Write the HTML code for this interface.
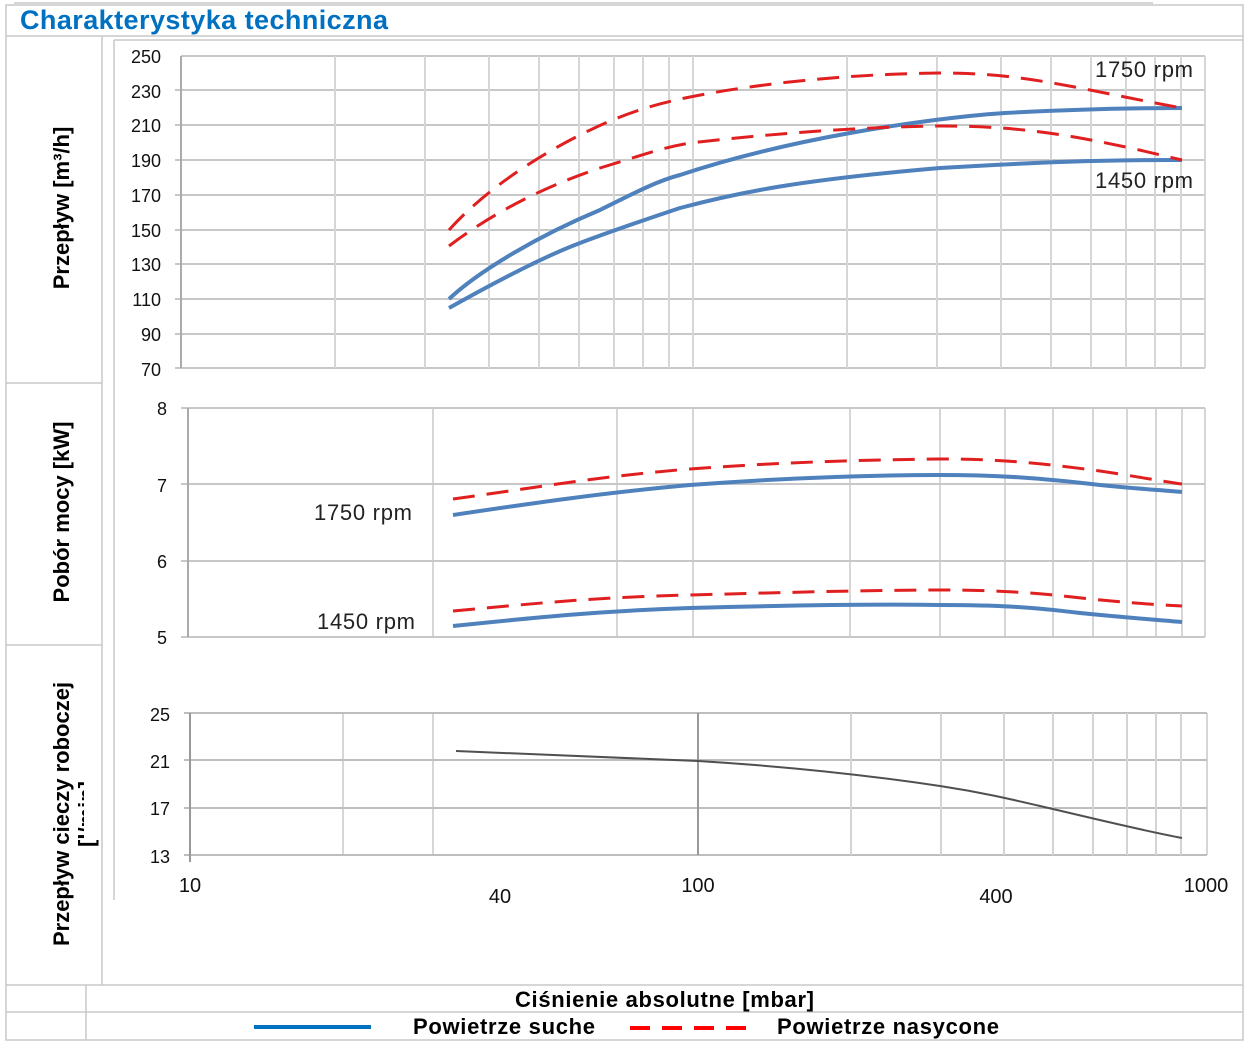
<!DOCTYPE html>
<html><head><meta charset="utf-8"><style>
body{margin:0;background:#fff}
svg{display:block;font-family:"Liberation Sans",Arial,sans-serif}
</style></head><body>
<svg width="1247" height="1045" viewBox="0 0 1247 1045">
<g stroke="#c8c8c8" stroke-width="1.5" fill="none">
<line x1="14" y1="3" x2="1153" y2="3"/>
<rect x="6" y="5" width="1237" height="1035"/>
<line x1="6" y1="36" x2="1243" y2="36"/>
<line x1="102" y1="36" x2="102" y2="985"/>
<line x1="6" y1="383" x2="102" y2="383"/>
<line x1="6" y1="645" x2="102" y2="645"/>
<line x1="6" y1="985" x2="1243" y2="985"/>
<line x1="6" y1="1012" x2="1243" y2="1012"/>
<line x1="86" y1="985" x2="86" y2="1040"/>
<line x1="114" y1="40" x2="114" y2="900"/>
<line x1="114" y1="40" x2="1243" y2="40"/>
</g>
<text x="20" y="29" font-size="27" font-weight="bold" fill="#0070c0" textLength="368">Charakterystyka techniczna</text>
<g font-weight="bold" font-size="22" fill="#000">
<text transform="translate(69,208) rotate(-90)" text-anchor="middle">Przepływ [m³/h]</text>
<text transform="translate(69,512) rotate(-90)" text-anchor="middle">Pobór mocy [kW]</text>
<text transform="translate(69,814) rotate(-90)" text-anchor="middle">Przepływ cieczy roboczej</text>
<text transform="translate(94,814) rotate(-90)" text-anchor="middle">[l/min]</text>
</g>
<rect x="84" y="700" width="17" height="140" fill="#fff"/>
<rect x="103" y="940" width="900" height="44" fill="#fff"/>
<g stroke="#c8c8c8" stroke-width="2">
<line x1="181" y1="56" x2="1205" y2="56"/><line x1="175" y1="90" x2="1205" y2="90"/>
<line x1="175" y1="125" x2="1205" y2="125"/><line x1="175" y1="160" x2="1205" y2="160"/>
<line x1="175" y1="195" x2="1205" y2="195"/><line x1="175" y1="230" x2="1205" y2="230"/>
<line x1="175" y1="264" x2="1205" y2="264"/><line x1="175" y1="299" x2="1205" y2="299"/>
<line x1="175" y1="334" x2="1205" y2="334"/><line x1="175" y1="368" x2="1205" y2="368"/>
</g>
<g stroke="#d6d6d6" stroke-width="2">
<path d="M335 56V368M425 56V368M489 56V368M539 56V368M579 56V368M614 56V368M643 56V368M669 56V368M693 56V368M847 56V368M937 56V368M1001 56V368M1051 56V368M1091 56V368M1126 56V368M1155 56V368M1181 56V368M1205 56V368"/>
<path d="M433 408V637M617 408V637M693 408V637M850 408V637M940 408V637M1005 408V637M1053 408V637M1093 408V637M1127 408V637M1156 408V637M1182 408V637M1205 408V637"/>
<path d="M343 713V855M433 713V855M1207 713V855"/>
</g>
<line x1="181" y1="56" x2="181" y2="368" stroke="#aaa" stroke-width="2"/>
<g font-size="18" fill="#111" text-anchor="end">
<text x="161" y="63">250</text><text x="161" y="98">230</text><text x="161" y="132">210</text>
<text x="161" y="167">190</text><text x="161" y="202">170</text><text x="161" y="237">150</text>
<text x="161" y="271">130</text><text x="161" y="306">110</text><text x="161" y="341">90</text>
<text x="161" y="376">70</text>
</g>
<g stroke="#c8c8c8" stroke-width="2">
<line x1="181" y1="408" x2="1205" y2="408"/><line x1="181" y1="484" x2="1205" y2="484"/>
<line x1="181" y1="561" x2="1205" y2="561"/><line x1="181" y1="637" x2="1205" y2="637"/>
<line x1="188" y1="408" x2="188" y2="637" stroke="#aaa"/>
</g>
<g font-size="18" fill="#111" text-anchor="end">
<text x="167" y="415">8</text><text x="167" y="492">7</text><text x="167" y="568">6</text><text x="167" y="644">5</text>
</g>
<g stroke="#bdbdbd" stroke-width="2">
<line x1="184" y1="713" x2="1207" y2="713"/><line x1="184" y1="760" x2="1207" y2="760"/>
<line x1="184" y1="808" x2="1207" y2="808"/><line x1="184" y1="855" x2="1207" y2="855"/>
<line x1="190" y1="713" x2="190" y2="862" stroke="#999"/>
<line x1="698" y1="713" x2="698" y2="855" stroke="#999"/>
</g>
<g stroke="#d4d4d4" stroke-width="2"><path d="M851 713V855M941 713V855M1004 713V855M1053 713V855M1093 713V855M1127 713V855M1156 713V855M1181 713V855"/></g>
<g font-size="18" fill="#111" text-anchor="end">
<text x="170" y="721">25</text><text x="170" y="768">21</text><text x="170" y="815">17</text><text x="170" y="863">13</text>
</g>
<g font-size="20" fill="#111" text-anchor="middle">
<text x="190" y="892">10</text><text x="500" y="903">40</text><text x="698" y="892">100</text>
<text x="996" y="903">400</text><text x="1206" y="892">1000</text>
</g>
<g fill="none" stroke-width="4">
<path stroke="#4f81bd" d="M449 299C480 270 540 235 600 210C640 190 660 180 680 175C740 155 800 142 850 133C900 124 960 116 1005 113C1060 110 1120 108 1182 108"/>
<path stroke="#4f81bd" d="M449 308C490 285 540 258 580 243C620 228 650 218 680 208C740 192 800 180 940 168C1040 162 1100 160 1182 160"/>
<path stroke="#e02020" stroke-width="3" stroke-dasharray="22,12" d="M449 230C480 195 530 160 580 135C620 115 650 105 690 97C760 83 850 74 940 73C1000 73 1040 80 1100 92C1140 100 1160 104 1182 108"/>
<path stroke="#e02020" stroke-width="3" stroke-dasharray="22,12" d="M449 246C490 215 540 188 600 168C640 156 660 148 690 143C760 135 850 127 940 126C1000 126 1040 131 1080 138C1130 147 1160 155 1182 160"/>
<path stroke="#4f81bd" d="M453 515C520 505 600 493 690 485C770 479 850 475 940 475C1000 475 1040 478 1100 485C1140 489 1160 490 1182 492"/>
<path stroke="#e02020" stroke-width="3" stroke-dasharray="22,12" d="M453 499C520 490 600 476 690 469C770 463 850 460 940 459C1000 459 1040 463 1100 471C1140 477 1160 481 1182 484"/>
<path stroke="#4f81bd" d="M453 626C540 617 600 611 690 608C800 605 880 604 940 605C1000 605 1030 607 1080 613C1130 618 1160 620 1182 622"/>
<path stroke="#e02020" stroke-width="3" stroke-dasharray="22,12" d="M453 611C540 603 600 597 690 595C800 592 880 590 940 590C1000 590 1040 593 1090 599C1130 603 1160 605 1182 606"/>
<path stroke="#505050" stroke-width="2" d="M456 751C550 755 640 758 698 761C780 766 860 774 940 786C980 792 1010 799 1040 806C1100 820 1140 830 1182 838"/>
</g>
<g font-size="22" fill="#222">
<text x="1095" y="77" textLength="98">1750 rpm</text>
<text x="1095" y="188" textLength="98">1450 rpm</text>
<text x="314" y="520" textLength="98">1750 rpm</text>
<text x="317" y="629" textLength="98">1450 rpm</text>
</g>
<text x="515" y="1007" font-size="22" font-weight="bold" fill="#000" textLength="299">Ciśnienie absolutne [mbar]</text>
<line x1="254" y1="1027" x2="371" y2="1027" stroke="#0070c0" stroke-width="4"/>
<text x="413" y="1034" font-size="22" font-weight="bold" fill="#000" textLength="182">Powietrze suche</text>
<line x1="630" y1="1028" x2="746" y2="1028" stroke="#ff0000" stroke-width="4" stroke-dasharray="20,12"/>
<text x="777" y="1034" font-size="22" font-weight="bold" fill="#000" textLength="222">Powietrze nasycone</text>
</svg>
</body></html>
